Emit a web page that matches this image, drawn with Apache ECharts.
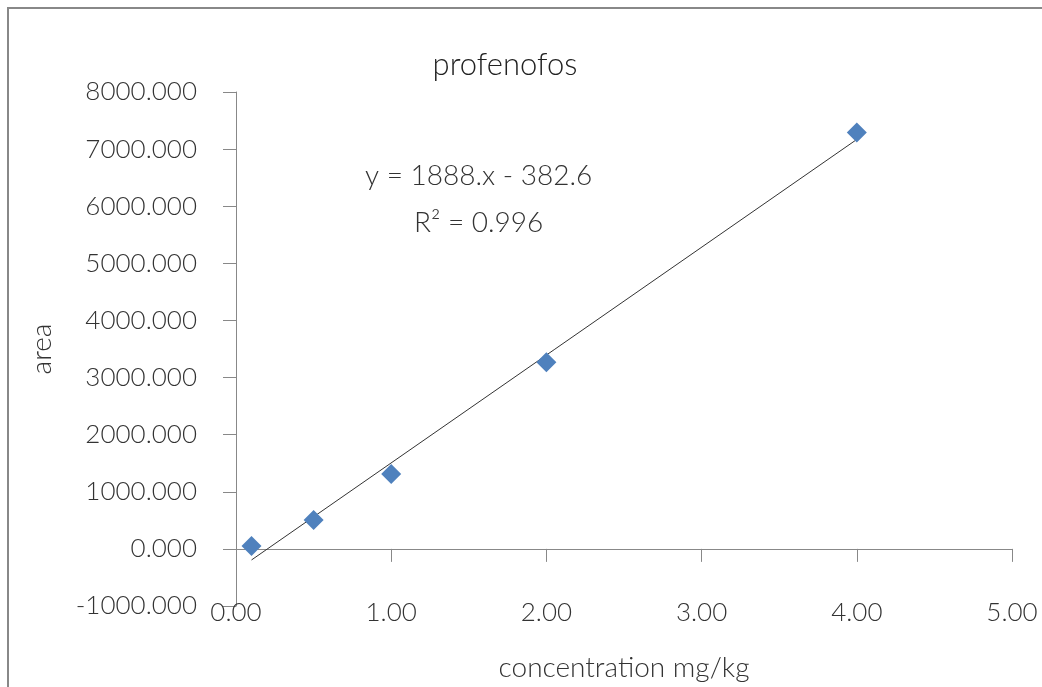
<!DOCTYPE html>
<html><head><meta charset="utf-8">
<script src="https://cdn.jsdelivr.net/npm/echarts@6/dist/echarts.min.js"></script>
<style>html,body{margin:0;padding:0;background:#fff}#c{width:1042px;height:687px}</style>
</head><body><div id="c"></div>
<script>
const title = "profenofos";
const xName = "concentration mg/kg";
const yName = "area";
const concentrations = [0.1, 0.5, 1, 2, 4];
const areas = [50, 505, 1310, 3270, 7290];
const slope = 1888;
const intercept = -382.6;
const trendX = [0.1, 4];
const eqText = "y = 1888.x - 382.6";
const r2Text = "R\u00b2 = 0.996";

const FONT = "Lato";
const chart = echarts.init(document.getElementById('c'));
const pts = concentrations.map((x, i) => [x, areas[i]]);
const trend = trendX.map(x => [x, slope * x + intercept]);
chart.setOption({
  animation: false,
  backgroundColor: '#fff',
  title: { text: title, left: 500, top: 44, textAlign: 'center',
    textStyle: { fontFamily: FONT, fontWeight: 300, fontSize: 31, color: '#222' } },
  grid: { left: 236, right: 30, top: 92, bottom: 81, containLabel: false, outerBoundsMode: 'none' },
  graphic: [
    { type: 'rect', shape: { x: 8, y: 8, width: 1100, height: 1000 },
      style: { fill: 'none', stroke: '#888', lineWidth: 2 }, silent: true },
    { type: 'text', left: 365, top: 162, style: { text: eqText, fontFamily: FONT, fontWeight: 300, fontSize: 28, fill: '#333' } },
    { type: 'text', left: 414, top: 209, style: { text: r2Text, fontFamily: FONT, fontWeight: 300, fontSize: 28, fill: '#333' } }
  ],
  xAxis: {
    type: 'value', min: 0, max: 5, interval: 1,
    name: xName, nameLocation: 'middle', nameGap: 48,
    nameTextStyle: { fontFamily: FONT, fontWeight: 300, fontSize: 28, color: '#333' },
    axisLine: { onZero: true, lineStyle: { color: '#888' } },
    axisTick: { show: true, inside: false, length: 13, lineStyle: { color: '#888' } },
    splitLine: { show: false },
    axisLabel: { formatter: v => v.toFixed(2), margin: -6, fontFamily: FONT, fontWeight: 300, fontSize: 26, color: '#333' }
  },
  yAxis: {
    type: 'value', min: -1000, max: 8000, interval: 1000,
    name: yName, nameLocation: 'middle', nameGap: 180, nameRotate: 90,
    nameTextStyle: { fontFamily: FONT, fontWeight: 300, fontSize: 28, color: '#333' },
    axisLine: { show: true, onZero: false, lineStyle: { color: '#888' } },
    axisTick: { show: true, length: 13, lineStyle: { color: '#888' } },
    splitLine: { show: false },
    axisLabel: { formatter: v => v.toFixed(3), margin: 39, fontFamily: FONT, fontWeight: 300, fontSize: 26, color: '#333' }
  },
  series: [
    { type: 'line', data: trend, symbol: 'none', lineStyle: { color: '#333', width: 1 }, z: 2 },
    { type: 'scatter', data: pts, symbol: 'diamond', symbolSize: [20, 20],
      itemStyle: { color: '#4F81BD', opacity: 1 }, z: 3 }
  ]
});
</script></body></html>
